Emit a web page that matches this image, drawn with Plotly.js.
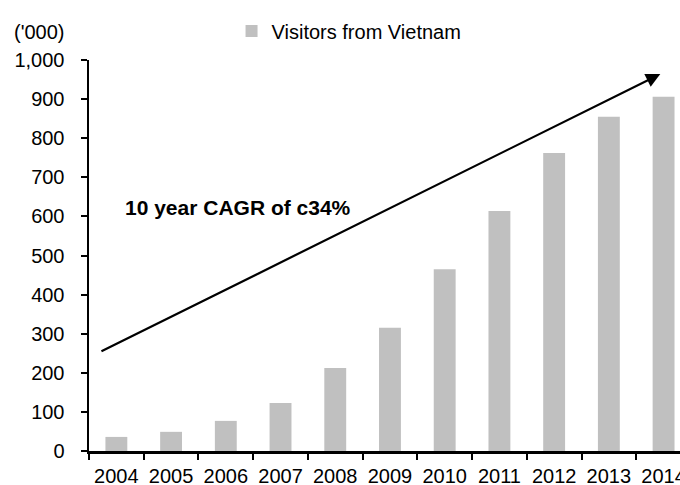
<!DOCTYPE html>
<html>
<head>
<meta charset="utf-8">
<script src="https://cdn.plot.ly/plotly-3.0.1.min.js"></script>
<style>
  html, body { margin: 0; padding: 0; background: #ffffff; }
  #chart { width: 680px; height: 485px; }
</style>
</head>
<body>
<div id="chart"></div>
<script>
// Annual visitor arrivals from Vietnam, in thousands
const years = ['2004', '2005', '2006', '2007', '2008', '2009', '2010', '2011', '2012', '2013', '2014'];
const visitors = [36, 49, 77, 123, 212, 315, 465, 614, 762, 855, 906];
const seriesName = 'Visitors from Vietnam';
const yTickVals = [0, 100, 200, 300, 400, 500, 600, 700, 800, 900, 1000];
const yTickText = ['0', '100', '200', '300', '400', '500', '600', '700', '800', '900', '1,000'];
const unitLabel = "('000)";
const cagrLabel = '<b>10 year CAGR of c34%</b>';

const FONT = 'Liberation Sans, Arial, sans-serif';

const trace = {
  type: 'bar',
  x: years,
  y: visitors,
  name: seriesName,
  marker: { color: '#c0c0c0' },
  showlegend: true,
  hoverinfo: 'x+y'
};

const layout = {
  width: 680,
  height: 485,
  margin: { l: 89, r: 0, t: 60, b: 34 },
  paper_bgcolor: '#ffffff',
  plot_bgcolor: '#ffffff',
  font: { family: FONT, size: 20, color: '#000000' },
  bargap: 0.6,
  showlegend: true,
  legend: {
    orientation: 'h',
    x: 0.44, xanchor: 'center',
    y: 1.074, yanchor: 'middle',
    yref: 'paper',
    bgcolor: 'rgba(0,0,0,0)',
    font: { family: FONT, size: 20, color: '#000000' },
    itemwidth: 30
  },
  xaxis: {
    type: 'category',
    range: [-0.5, 10.3],
    tickson: 'boundaries',
    ticks: 'outside',
    ticklen: 6,
    tickwidth: 2,
    tickcolor: '#000000',
    ticklabelstandoff: 5,
    showline: true,
    linecolor: '#000000',
    linewidth: 2.5,
    showgrid: false,
    zeroline: false,
    tickfont: { family: FONT, size: 20, color: '#000000' },
    fixedrange: true
  },
  yaxis: {
    range: [0, 1000],
    tickvals: yTickVals,
    ticktext: yTickText,
    ticks: 'outside',
    ticklen: 6,
    tickwidth: 2,
    tickcolor: '#000000',
    ticklabelstandoff: 12,
    showline: true,
    linecolor: '#000000',
    linewidth: 2.5,
    showgrid: false,
    zeroline: false,
    tickfont: { family: FONT, size: 20, color: '#000000' },
    fixedrange: true
  },
  annotations: [
    {
      // growth trend arrow
      xref: 'x', yref: 'y', axref: 'x', ayref: 'y',
      x: 9.94, y: 964,
      ax: -0.30, ay: 253,
      text: '',
      showarrow: true,
      arrowhead: 2,
      arrowsize: 1.3,
      arrowwidth: 2.2,
      arrowcolor: '#000000',
      standoff: 0
    },
    {
      xref: 'x', yref: 'y',
      x: 0.13, y: 624,
      xanchor: 'left', yanchor: 'middle',
      text: cagrLabel,
      showarrow: false,
      font: { family: FONT, size: 21, color: '#000000' }
    },
    {
      xref: 'paper', yref: 'paper',
      x: -0.131, y: 1.0,
      xanchor: 'left', yanchor: 'bottom',
      yshift: 15,
      text: unitLabel,
      showarrow: false,
      font: { family: FONT, size: 20, color: '#000000' }
    }
  ]
};

Plotly.newPlot('chart', [trace], layout, { displayModeBar: false, staticPlot: true });
</script>
</body>
</html>
